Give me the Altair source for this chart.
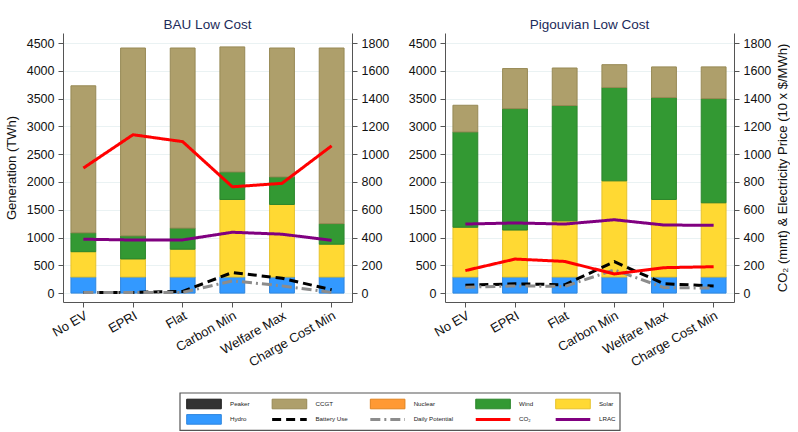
import altair as alt
import pandas as pd

scenarios = ["No EV", "EPRI", "Flat", "Carbon Min", "Welfare Max", "Charge Cost Min"]

# Generation by source (TWh)
bau_hydro = [290, 290, 290, 290, 290, 290]
bau_solar = [455, 325, 500, 1395, 1305, 590]
bau_wind = [340, 415, 380, 495, 495, 370]
bau_nuclear = [0, 0, 0, 0, 0, 0]
bau_ccgt = [2645, 3380, 3240, 2250, 2320, 3160]
bau_peaker = [0, 0, 0, 0, 0, 0]

pig_hydro = [290, 290, 290, 290, 290, 290]
pig_solar = [895, 845, 1010, 1730, 1395, 1335]
pig_wind = [1715, 2185, 2075, 1680, 1835, 1875]
pig_nuclear = [0, 0, 0, 0, 0, 0]
pig_ccgt = [480, 720, 675, 410, 550, 570]
pig_peaker = [0, 0, 0, 0, 0, 0]

# Right-axis series: CO2 (mmt) and prices (10 x $/MWh)
bau_battery = [5, 5, 12, 148, 107, 24]
bau_daily = [5, 5, 5, 88, 52, 5]
bau_co2 = [900, 1140, 1090, 765, 790, 1060]
bau_lrac = [388, 382, 383, 438, 424, 380]

pig_battery = [57, 67, 60, 226, 67, 52]
pig_daily = [43, 52, 48, 167, 40, 36]
pig_co2 = [162, 245, 228, 138, 183, 190]
pig_lrac = [497, 505, 497, 528, 490, 488]

sources = ["Hydro", "Solar", "Wind", "Nuclear", "CCGT", "Peaker"]
source_fill = ["#3399ff", "#ffd933", "#339933", "#ff9933", "#ae9f6b", "#333333"]
source_edge = ["#2f86de", "#e6c22c", "#2b852b", "#e0831f", "#978955", "#1c1c1c"]

series = ["Battery Use", "Daily Potential", "CO₂", "LRAC"]
series_color = ["#000000", "#8c8c8c", "#ff0000", "#800080"]
series_dash = [[9, 5], [10, 4, 2, 4], [1, 0], [1, 0]]

FONT = "Liberation Sans"


def bar_table(cols):
    rows = []
    for k, (src, vals) in enumerate(zip(sources, cols)):
        for s, v in zip(scenarios, vals):
            rows.append({"scenario": s, "source": src, "stack": k, "twh": v})
    return pd.DataFrame(rows)


def line_table(cols):
    rows = []
    for name, vals in zip(series, cols):
        for s, v in zip(scenarios, vals):
            rows.append({"scenario": s, "series": name, "value": v})
    return pd.DataFrame(rows)


bau_bars = bar_table([bau_hydro, bau_solar, bau_wind, bau_nuclear, bau_ccgt, bau_peaker])
pig_bars = bar_table([pig_hydro, pig_solar, pig_wind, pig_nuclear, pig_ccgt, pig_peaker])
bau_lines = line_table([bau_battery, bau_daily, bau_co2, bau_lrac])
pig_lines = line_table([pig_battery, pig_daily, pig_co2, pig_lrac])


def panel(title, bars, lines, left_title, right_title):
    x_enc = alt.X(
        "scenario:N",
        sort=scenarios,
        title=None,
        scale=alt.Scale(paddingInner=0.5, paddingOuter=0.16),
        axis=alt.Axis(labelAngle=-30, labelAlign="right", labelBaseline="top",
                      labelFontSize=13, labelPadding=2, grid=False),
    )
    bar_layer = alt.Chart(bars).transform_filter("datum.twh > 0").mark_bar(strokeWidth=1).encode(
        x=x_enc,
        y=alt.Y(
            "twh:Q",
            stack="zero",
            title=left_title,
            scale=alt.Scale(domain=[-160, 4680], nice=False, zero=False),
            axis=alt.Axis(values=list(range(0, 4501, 500)), format="d", grid=True, titlePadding=8),
        ),
        color=alt.Color("source:N", scale=alt.Scale(domain=sources, range=source_fill), legend=None),
        stroke=alt.Stroke("source:N", scale=alt.Scale(domain=sources, range=source_edge), legend=None),
        order=alt.Order("stack:Q"),
    )
    line_layer = alt.Chart(lines).mark_line(strokeWidth=3).encode(
        x=alt.X("scenario:N", sort=scenarios),
        y=alt.Y(
            "value:Q",
            title=right_title,
            scale=alt.Scale(domain=[-64, 1872], nice=False, zero=False),
            axis=alt.Axis(orient="right", values=list(range(0, 1801, 200)), format="d",
                          grid=False, titlePadding=6, titleAngle=270, titleBaseline="top"),
        ),
        color=alt.Color("series:N", scale=alt.Scale(domain=series, range=series_color), legend=None),
        strokeDash=alt.StrokeDash("series:N", scale=alt.Scale(domain=series, range=series_dash), legend=None),
    )
    return alt.layer(bar_layer, line_layer).resolve_scale(
        y="independent", color="independent"
    ).properties(
        width=289,
        height=269,
        title=alt.TitleParams(title, fontSize=13.5, fontWeight="normal", color="#1c2b5a",
                              font=FONT, anchor="middle", offset=2),
    )


left = panel("BAU Low Cost", bau_bars, bau_lines, "Generation (TWh)", "")
right = panel("Pigouvian Low Cost", pig_bars, pig_lines, "", "CO₂ (mmt) & Electricity Price (10 x $/MWh)")

# ---- legend block: 5 columns x 2 rows of swatches and labels inside a framed box ----
legend_entries = ["Peaker", "CCGT", "Nuclear", "Wind", "Solar",
                  "Hydro", "Battery Use", "Daily Potential", "CO₂", "LRAC"]
legend_font = 6.2
char_em = {"P": .667, "e": .556, "a": .556, "k": .5, "r": .333, "H": .722, "y": .5, "d": .556,
           "o": .556, "C": .722, "G": .778, "T": .611, "B": .667, "t": .278, " ": .278, "U": .722,
           "s": .5, "N": .722, "u": .556, "c": .5, "l": .222, "D": .722, "i": .222, "n": .556,
           "W": .944, "O": .778, "₂": .4, "S": .667, "L": .556, "R": .722, "A": .667}


def text_width(s):
    return sum(char_em.get(ch, .55) for ch in s) * legend_font


ncol = 5
swatch_w, swatch_gap, col_gap = 34.6, 8.7, 22.5
col_x = [6.7]
for c in range(ncol - 1):
    widest = max(text_width(legend_entries[c]), text_width(legend_entries[c + ncol]))
    col_x.append(col_x[-1] + swatch_w + swatch_gap + widest + col_gap)
row_y = [11.0, 26.4]
box_w, box_h = 440, 37.4
box_left = 117                  # box offset from the left plot edge
strip_w = box_left + box_w + 2  # strip that holds the legend box

leg_rows = []
for i, name in enumerate(legend_entries):
    c, r = i % ncol, i // ncol
    leg_rows.append({
        "label": name,
        "kind": "patch" if name in sources else "line",
        "x0": col_x[c], "x1": col_x[c] + swatch_w, "tx": col_x[c] + swatch_w + swatch_gap,
        "y": row_y[r], "y0": row_y[r] - 4.8, "y1": row_y[r] + 4.8,
    })
leg = pd.DataFrame(leg_rows)
frame = pd.DataFrame([{"x0": 0, "x1": box_w, "y0": 0, "y1": box_h}])

lx = alt.Scale(domain=[-box_left, strip_w - box_left], nice=False, zero=False)
ly = alt.Scale(domain=[box_h, 0], nice=False, zero=False)

leg_frame = alt.Chart(frame).mark_rect(fill="white", stroke="#555555", strokeWidth=1.2).encode(
    x=alt.X("x0:Q", scale=lx, axis=None), x2="x1:Q",
    y=alt.Y("y0:Q", scale=ly, axis=None), y2="y1:Q",
)
leg_patch = alt.Chart(leg).transform_filter("datum.kind == 'patch'").mark_rect(strokeWidth=1).encode(
    x=alt.X("x0:Q", scale=lx, axis=None), x2="x1:Q",
    y=alt.Y("y0:Q", scale=ly, axis=None), y2="y1:Q",
    color=alt.Color("label:N", scale=alt.Scale(domain=sources, range=source_fill), legend=None),
    stroke=alt.Stroke("label:N", scale=alt.Scale(domain=sources, range=source_edge), legend=None),
)
leg_line = alt.Chart(leg).transform_filter("datum.kind == 'line'").mark_rule(strokeWidth=3).encode(
    x=alt.X("x0:Q", scale=lx, axis=None), x2="x1:Q",
    y=alt.Y("y:Q", scale=ly, axis=None),
    color=alt.Color("label:N", scale=alt.Scale(domain=series, range=series_color), legend=None),
    strokeDash=alt.StrokeDash("label:N", scale=alt.Scale(domain=series, range=series_dash), legend=None),
)
leg_text = alt.Chart(leg).mark_text(align="left", baseline="middle", fontSize=legend_font,
                                    font=FONT, color="#222222").encode(
    x=alt.X("tx:Q", scale=lx, axis=None),
    y=alt.Y("y:Q", scale=ly, axis=None),
    text="label:N",
)
legend_box = alt.layer(leg_frame, leg_patch, leg_line, leg_text).resolve_scale(
    color="independent"
).properties(width=strip_w, height=box_h)

chart = alt.vconcat(
    alt.hconcat(left, right, spacing=19),
    legend_box,
    spacing=22,
).properties(
    padding={"left": 5, "top": 17, "right": 0, "bottom": 0},
    background="white",
).configure_view(
    stroke=None
).configure_axis(
    labelFont=FONT, titleFont=FONT, labelFontSize=12.5, titleFontSize=13,
    titleFontWeight="normal", labelColor="#111111", titleColor="#111111",
    domainColor="#555555", tickColor="#555555", tickSize=5, labelPadding=4,
    gridColor="#eaf2f3", gridWidth=1,
)

chart.save("out.html", embed_options={"renderer": "svg", "actions": False})
